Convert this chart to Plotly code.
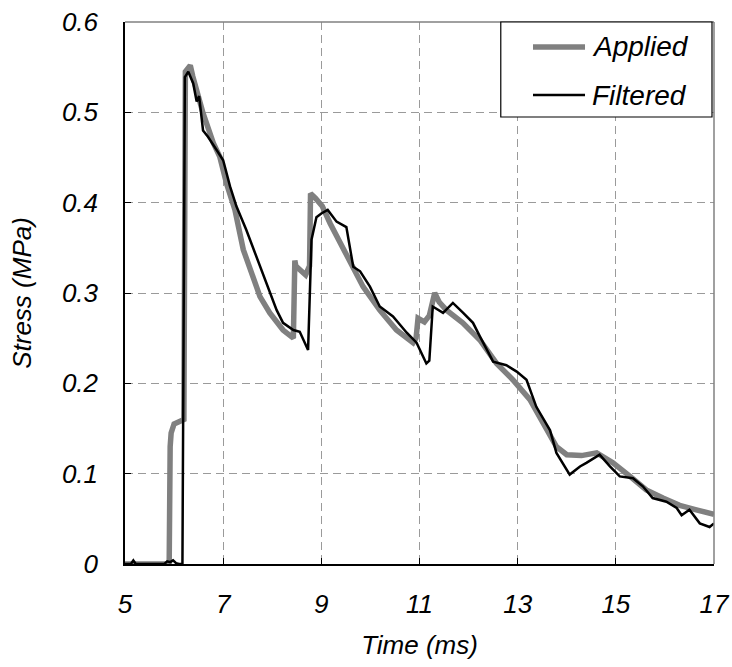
import plotly.graph_objects as go

# Applied stress (gray)
applied_t = [5.00, 5.90, 5.92, 5.94, 6.00, 6.10, 6.20, 6.23, 6.28, 6.33, 6.38, 6.46, 6.59, 6.80, 6.93,
             7.07, 7.24, 7.41, 7.58, 7.75, 7.95, 8.22, 8.43, 8.46, 8.48, 8.58, 8.68, 8.76, 8.78, 8.88,
             8.96, 9.02, 9.18, 9.51, 9.85, 10.19, 10.53, 10.87, 10.93, 10.97, 11.10, 11.20, 11.31, 11.40,
             11.55, 11.88, 12.23, 12.57, 12.90, 13.25, 13.59, 13.79, 14.00, 14.30, 14.61, 14.94, 15.29,
             15.62, 15.96, 16.30, 16.64, 17.00]
applied_s = [0.000, 0.000, 0.130, 0.145, 0.155, 0.158, 0.160, 0.545, 0.550, 0.552, 0.540, 0.525, 0.499,
             0.466, 0.451, 0.421, 0.392, 0.348, 0.322, 0.296, 0.278, 0.259, 0.250, 0.336, 0.330, 0.325,
             0.320, 0.330, 0.410, 0.405, 0.400, 0.396, 0.377, 0.344, 0.307, 0.281, 0.259, 0.245, 0.250,
             0.272, 0.268, 0.275, 0.300, 0.290, 0.281, 0.267, 0.248, 0.222, 0.204, 0.182, 0.148, 0.130,
             0.121, 0.120, 0.123, 0.112, 0.097, 0.082, 0.073, 0.065, 0.060, 0.055]

# Filtered stress (black)
filtered_t = [5.00, 5.12, 5.17, 5.22, 5.80, 5.86, 5.92, 5.98, 6.04, 6.10, 6.17, 6.22, 6.29, 6.39, 6.46,
              6.51, 6.59, 6.69, 6.87, 7.00, 7.14, 7.27, 7.47, 7.68, 7.89, 8.09, 8.22, 8.43, 8.56, 8.73,
              8.80, 8.90, 9.00, 9.13, 9.31, 9.51, 9.65, 9.79, 9.99, 10.19, 10.46, 10.74, 10.94, 11.14,
              11.20, 11.27, 11.48, 11.68, 11.89, 12.09, 12.23, 12.50, 12.77, 12.98, 13.18, 13.38, 13.66,
              13.79, 14.06, 14.27, 14.40, 14.67, 14.88, 15.08, 15.35, 15.55, 15.75, 16.03, 16.24, 16.34,
              16.50, 16.71, 16.91, 17.00]
filtered_s = [0.000, 0.000, 0.004, 0.000, 0.000, 0.003, 0.002, 0.004, 0.001, 0.000, 0.000, 0.539,
              0.545, 0.532, 0.512, 0.518, 0.480, 0.473, 0.458, 0.447, 0.418, 0.396, 0.370, 0.340, 0.311,
              0.281, 0.267, 0.259, 0.257, 0.237, 0.359, 0.384, 0.388, 0.392, 0.379, 0.373, 0.329, 0.324,
              0.307, 0.285, 0.274, 0.256, 0.245, 0.222, 0.225, 0.285, 0.278, 0.289, 0.278, 0.267, 0.252,
              0.224, 0.220, 0.213, 0.204, 0.174, 0.148, 0.123, 0.099, 0.108, 0.112, 0.121, 0.108, 0.097,
              0.095, 0.086, 0.073, 0.069, 0.062, 0.054, 0.060, 0.045, 0.041, 0.045]

x_ticks = [5, 7, 9, 11, 13, 15, 17]
y_ticks = [0, 0.1, 0.2, 0.3, 0.4, 0.5, 0.6]
y_labels = ["0", "0.1", "0.2", "0.3", "0.4", "0.5", "0.6"]
series_names = ["Applied", "Filtered"]

FONT = "Liberation Sans, Arial, sans-serif"
GRAY = "#808080"

fig = go.Figure()
fig.add_trace(go.Scatter(x=applied_t, y=applied_s, mode="lines", name=series_names[0],
                         line=dict(color=GRAY, width=5.5)))
fig.add_trace(go.Scatter(x=filtered_t, y=filtered_s, mode="lines", name=series_names[1],
                         line=dict(color="black", width=2.5)))

axis_common = dict(
    showgrid=True, gridcolor="#9a9a9a", griddash="8px,5px", gridwidth=1,
    showline=True, linecolor="black", linewidth=1.5,
    ticks="inside", ticklen=6, tickcolor="black", tickwidth=1,
    tickfont=dict(family=FONT, size=26, style="italic", color="black"),
    zeroline=False, automargin=False,
)

fig.update_xaxes(range=[5, 17], tickvals=x_ticks, ticktext=[str(v) for v in x_ticks],
                 title=dict(text="Time (ms)", font=dict(family=FONT, size=26, style="italic", color="black"),
                            standoff=18),
                 ticklabelstandoff=16, **axis_common)
fig.update_yaxes(range=[0, 0.6], tickvals=y_ticks, ticktext=y_labels,
                 title=dict(text="Stress (MPa)", font=dict(family=FONT, size=26, style="italic", color="black"),
                            standoff=23),
                 ticklabelstandoff=20, **axis_common)

# top and right frame
fig.add_shape(type="line", xref="paper", yref="paper", x0=0, x1=1, y0=1, y1=1,
              line=dict(color=GRAY, width=1.5))
fig.add_shape(type="line", xref="paper", yref="paper", x0=1, x1=1, y0=0, y1=1,
              line=dict(color=GRAY, width=1.5))

# legend drawn manually
fig.add_shape(type="rect", xref="paper", yref="paper", x0=0.638, x1=0.9966, y0=0.8247, y1=1.0,
              line=dict(color="black", width=1.2), fillcolor="white", layer="above")
legend_rows = [(series_names[0], GRAY, 5.5, 0.9539), (series_names[1], "black", 2.5, 0.8653)]
for name, col, w, yy in legend_rows:
    fig.add_shape(type="line", xref="paper", yref="paper", x0=0.6927, x1=0.781, y0=yy, y1=yy,
                  line=dict(color=col, width=w), layer="above")
    fig.add_annotation(xref="paper", yref="paper", x=0.7895, y=yy, text=name, showarrow=False,
                       xanchor="left", yanchor="middle",
                       font=dict(family=FONT, size=28, style="italic", color="black"))

fig.update_layout(
    width=732, height=667,
    margin=dict(l=125, r=18, t=22, b=103),
    paper_bgcolor="white", plot_bgcolor="white",
    showlegend=False,
)

fig.write_html("out.html", config={"displayModeBar": False},
               post_script="document.body.style.margin='0';document.body.style.overflow='hidden';")
